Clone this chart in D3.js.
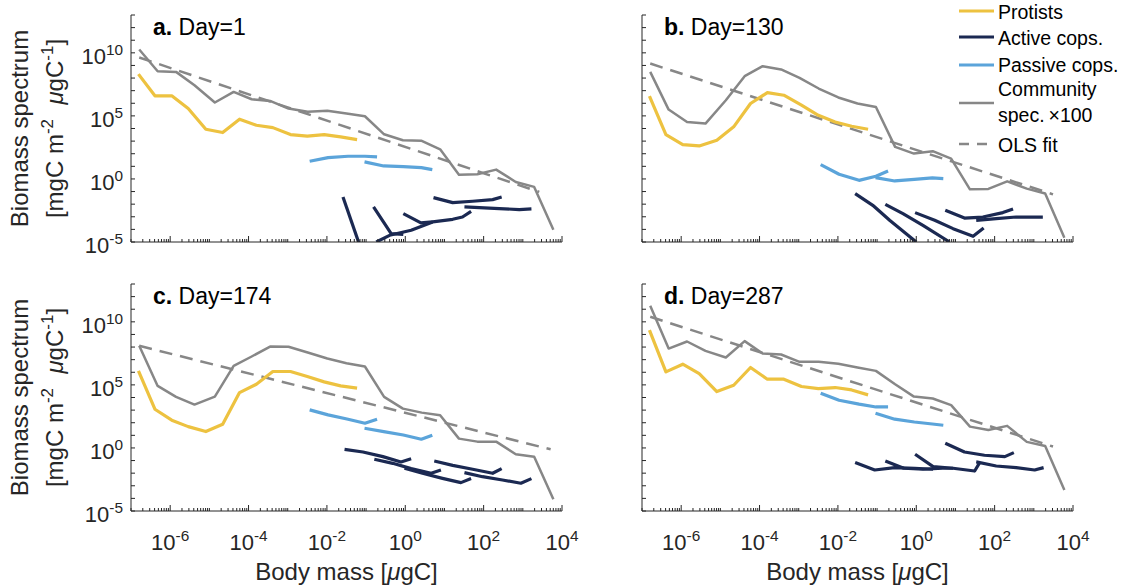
<!DOCTYPE html>
<html>
<head>
<meta charset="utf-8">
<script src="https://cdn.jsdelivr.net/npm/d3@7"></script>
<style>
  body { margin: 0; background: #fff; }
  svg { font-family: Arial, "Liberation Sans", Helvetica, sans-serif; }
</style>
</head>
<body>
<div id="chart"></div>
<script>
// all values are log10: body mass [ugC] and biomass spectrum
const panelLetters = ["a.", "b.", "c.", "d."];
const panelDays = [1, 130, 174, 287];

const commMass = [-6.79, -6.32, -5.85, -5.38, -4.86, -4.38, -3.92, -3.45, -2.98, -2.49, -1.99, -1.50,
  -1.03, -0.54, -0.06, 0.42, 0.89, 1.37, 1.84, 2.32, 2.82, 3.29, 3.78];
const commA = [10.26, 8.54, 8.49, 7.43, 6.06, 6.90, 6.32, 6.19, 5.58, 5.32, 5.40, 5.19,
  4.97, 3.54, 3.07, 3.02, 2.35, 0.34, 0.37, 0.74, -0.24, -0.63, -4.02];
const commB = [8.49, 5.50, 4.52, 4.39, 6.24, 8.15, 8.94, 8.68, 8.02, 7.17, 6.46, 5.98,
  5.71, 2.54, 2.01, 2.20, 1.61, -0.82, -0.79, -0.19, -0.77, -1.16, -4.66];
const commC = [8.10, 4.92, 4.05, 3.44, 4.07, 6.51, 7.25, 8.04, 8.02, 7.57, 7.09, 6.72,
  6.46, 4.05, 3.12, 2.80, 2.59, 0.74, 0.50, 0.50, -0.50, -0.69, -4.07];
const commD = [11.27, 7.88, 8.44, 7.70, 7.17, 8.47, 7.49, 7.41, 6.83, 6.83, 6.67, 6.38,
  6.11, 5.05, 4.07, 3.92, 3.39, 1.69, 1.43, 1.75, 0.48, 0.16, -3.33];

const protMass = [-6.81, -6.39, -5.96, -5.54, -5.09, -4.66, -4.23, -3.80, -3.38, -2.93, -2.50, -2.07, -1.65, -1.23];
const protA = [8.31, 6.59, 6.59, 5.58, 3.94, 3.68, 4.74, 4.26, 4.07, 3.52, 3.39, 3.52, 3.33, 3.12];
const protB = [6.56, 3.52, 2.72, 2.62, 3.07, 4.13, 5.98, 6.85, 6.64, 5.85, 5.05, 4.52, 4.18, 3.94];
const protC = [6.11, 3.07, 2.20, 1.69, 1.30, 1.88, 4.39, 5.05, 6.06, 6.06, 5.66, 5.24, 4.92, 4.74];
const protD = [9.34, 6.03, 6.64, 5.90, 4.47, 4.97, 6.38, 5.45, 5.45, 4.87, 4.71, 4.79, 4.60, 4.21];

const passMass1 = [-2.44, -1.97, -1.46, -1.03, -0.72];
const passMass2 = [-1.04, -0.55, -0.05, 0.41, 0.69];
const passA = [[1.40, 1.69, 1.80, 1.80, 1.75], [1.35, 1.03, 0.98, 0.90, 0.74]];
const passB = [[1.14, 0.37, -0.11, 0.21, 0.63], [0.11, -0.16, -0.03, 0.08, 0.03]];
const passC = [[3.02, 2.62, 2.28, 1.96, 2.28], [1.56, 1.30, 1.03, 0.69, 1.01]];
const passD = [[4.34, 3.78, 3.47, 3.25, 3.25], [2.75, 2.28, 2.06, 1.90, 1.80]];

// active copepod populations: [mass, biomass] pairs
const activeA = [
  [[-1.59, -1.43], [-1.17, -5.2]],
  [[-0.81, -2.22], [-0.36, -4.34], [-0.05, -4.40]],
  [[-0.74, -5.0], [-0.40, -4.47], [0.15, -4.07], [0.70, -3.41], [1.21, -3.20], [1.46, -3.02], [1.68, -2.57]],
  [[-0.05, -2.75], [0.40, -3.49], [0.70, -3.41]],
  [[0.72, -1.48], [1.21, -1.88], [1.72, -1.77], [2.23, -1.64], [2.46, -1.43]],
  [[1.51, -2.22], [1.89, -2.28], [2.40, -2.35], [2.91, -2.43], [3.22, -2.38]]
];
const activeB = [
  [[-1.56, -1.16], [-1.11, -2.09], [-0.68, -3.28], [0.0, -5.0]],
  [[-0.79, -2.01], [-0.34, -2.75], [0.17, -3.68], [0.85, -5.0]],
  [[-0.03, -2.67], [0.47, -3.28], [0.94, -3.94], [1.45, -4.55], [1.72, -3.89]],
  [[0.74, -2.49], [1.23, -3.10], [1.70, -3.02], [2.21, -2.67], [2.47, -2.38]],
  [[1.53, -3.28], [2.04, -3.15], [2.55, -3.02], [2.98, -3.02], [3.23, -3.02]]
];
const activeC = [
  [[-1.55, -0.11], [-1.08, -0.32], [-0.57, -0.69], [-0.11, -1.11], [0.15, -0.85]],
  [[-0.79, -0.90], [-0.32, -1.22], [0.15, -1.64], [0.66, -2.01], [0.91, -1.75]],
  [[-0.02, -1.61], [0.44, -2.01], [0.95, -2.41], [1.42, -2.75], [1.68, -2.43]],
  [[0.74, -1.03], [1.21, -1.38], [1.72, -1.69], [2.23, -2.01], [2.46, -1.64]],
  [[1.51, -1.96], [1.97, -2.28], [2.48, -2.54], [2.95, -2.80], [3.22, -2.43]]
];
const activeD = [
  [[-1.56, -1.16], [-1.06, -1.75], [-0.55, -1.56], [-0.04, -1.61], [0.43, -1.69]],
  [[-0.79, -1.03], [-0.32, -1.61], [0.17, -1.69], [0.68, -1.61], [0.94, -1.61]],
  [[-0.03, -0.50], [0.43, -1.48], [0.94, -1.61], [1.49, -1.83], [1.63, -1.11]],
  [[0.74, 0.37], [1.23, -0.32], [1.74, -0.58], [2.26, -0.69], [2.49, -0.37]],
  [[1.53, -1.11], [2.04, -1.43], [2.55, -1.56], [3.02, -1.75], [3.25, -1.56]]
];

// OLS fit endpoints [mass, biomass]
const olsA = [[-6.79, 9.63], [3.42, -1.03]];
const olsB = [[-6.79, 9.15], [3.49, -1.22]];
const olsC = [[-6.79, 8.10], [3.71, -0.11]];
const olsD = [[-6.79, 10.40], [3.49, 0.11]];

const legendLabels = ["Protists", "Active cops.", "Passive cops.", "Community", "OLS fit"];

const colProt = "#EDC240", colActive = "#1B2952", colPass = "#5BA4DA", colComm = "#878787";

const panels = [
  {comm: commA, prot: protA, pass: passA, active: activeA, ols: olsA, x0: 131, y0: 15},
  {comm: commB, prot: protB, pass: passB, active: activeB, ols: olsB, x0: 642, y0: 15},
  {comm: commC, prot: protC, pass: passC, active: activeC, ols: olsC, x0: 131, y0: 284},
  {comm: commD, prot: protD, pass: passD, active: activeD, ols: olsD, x0: 642, y0: 284}
];
const pw = 431, ph = 227;

const svg = d3.select("#chart").append("svg")
  .attr("width", 1125).attr("height", 587);

function supLabel(sel, base, exp, size) {
  sel.append("tspan").text(base);
  sel.append("tspan").attr("font-size", size * 0.7).attr("dy", -size * 0.42).text(exp);
}

panels.forEach(function(p, i) {
  const x = d3.scaleLog().domain([1e-7, 1e4]).range([p.x0, p.x0 + pw]);
  const y = d3.scaleLog().domain([1e-5, 1e13]).range([p.y0 + ph, p.y0]);
  const line = d3.line().x(d => x(Math.pow(10, d[0]))).y(d => y(Math.pow(10, d[1])));
  const g = svg.append("g");

  svg.append("clipPath").attr("id", "clip" + i)
    .append("rect").attr("x", p.x0).attr("y", p.y0).attr("width", pw).attr("height", ph);
  const plot = g.append("g").attr("clip-path", "url(#clip" + i + ")")
    .attr("fill", "none").attr("stroke-linejoin", "round");

  // community spectrum and fit
  plot.append("path").attr("d", line(commMass.map((m, k) => [m, p.comm[k]])))
    .attr("stroke", colComm).attr("stroke-width", 2.5);
  plot.append("path").attr("d", line(p.ols))
    .attr("stroke", colComm).attr("stroke-width", 2.5).attr("stroke-dasharray", "13,8");
  // protists
  plot.append("path").attr("d", line(protMass.map((m, k) => [m, p.prot[k]])))
    .attr("stroke", colProt).attr("stroke-width", 3.2);
  // passive copepods
  [passMass1, passMass2].forEach(function(ms, s) {
    plot.append("path").attr("d", line(ms.map((m, k) => [m, p.pass[s][k]])))
      .attr("stroke", colPass).attr("stroke-width", 3.2);
  });
  // active copepods
  p.active.forEach(function(seg) {
    plot.append("path").attr("d", line(seg))
      .attr("stroke", colActive).attr("stroke-width", 3.2);
  });

  // axes
  const ax = g.append("g").attr("stroke", "#262626").attr("stroke-width", 1);
  ax.append("line").attr("x1", p.x0).attr("x2", p.x0).attr("y1", p.y0).attr("y2", p.y0 + ph);
  ax.append("line").attr("x1", p.x0).attr("x2", p.x0 + pw).attr("y1", p.y0 + ph).attr("y2", p.y0 + ph);
  d3.range(-5, 14).forEach(function(e) {
    const yy = y(Math.pow(10, e));
    ax.append("line").attr("x1", p.x0).attr("x2", p.x0 + 4).attr("y1", yy).attr("y2", yy);
  });
  d3.range(-7, 4).forEach(function(e) {
    d3.range(1, 10).forEach(function(k) {
      const v = k * Math.pow(10, e);
      const major = (k === 1 && e % 2 === 0);
      const xx = x(v);
      ax.append("line").attr("x1", xx).attr("x2", xx)
        .attr("y1", p.y0 + ph).attr("y2", p.y0 + ph - (major ? 6 : 3));
    });
  });
  const xe = x(1e4);
  ax.append("line").attr("x1", xe).attr("x2", xe).attr("y1", p.y0 + ph).attr("y2", p.y0 + ph - 6);

  // tick labels
  if (i % 2 === 0) {
    [-5, 0, 5, 10].forEach(function(e) {
      const t = g.append("text").attr("x", p.x0 - 8).attr("y", y(Math.pow(10, e)) + 11)
        .attr("text-anchor", "end").attr("font-size", 22).attr("fill", "#262626");
      supLabel(t, "10", String(e), 22);
    });
  }
  if (i >= 2) {
    [-6, -4, -2, 0, 2, 4].forEach(function(e) {
      const t = g.append("text").attr("x", x(Math.pow(10, e))).attr("y", 550)
        .attr("text-anchor", "middle").attr("font-size", 22).attr("fill", "#262626");
      supLabel(t, "10", String(e), 22);
    });
    const xl = g.append("text").attr("x", p.x0 + pw / 2).attr("y", 580)
      .attr("text-anchor", "middle").attr("font-size", 24).attr("fill", "#262626");
    xl.append("tspan").text("Body mass [");
    xl.append("tspan").attr("font-style", "italic").text("\u03bc");
    xl.append("tspan").text("gC]");
  }
  if (i % 2 === 0) {
    const cy = p.y0 + ph / 2;
    g.append("text").attr("transform", `translate(28,${cy}) rotate(-90)`)
      .attr("text-anchor", "middle").attr("font-size", 24).attr("fill", "#262626")
      .text("Biomass spectrum");
    const t2 = g.append("text").attr("transform", `translate(63,${cy}) rotate(-90)`)
      .attr("text-anchor", "middle").attr("font-size", 24).attr("fill", "#262626");
    t2.append("tspan").text("[mgC m");
    t2.append("tspan").attr("font-size", 17).attr("dy", -10).text("-2");
    t2.append("tspan").attr("dy", 10).text("\u2009\u2009\u2009");
    t2.append("tspan").attr("font-style", "italic").text("\u03bc");
    t2.append("tspan").text("gC");
    t2.append("tspan").attr("font-size", 17).attr("dy", -10).text("-1");
    t2.append("tspan").attr("dy", 10).text("]");
  }

  // panel title
  const tt = g.append("text").attr("x", p.x0 + 22).attr("y", p.y0 + 20)
    .attr("font-size", 23).attr("fill", "#000");
  tt.append("tspan").attr("font-weight", "bold").text(panelLetters[i]);
  tt.append("tspan").text(" Day=" + panelDays[i]);
});

// legend
const lg = svg.append("g").attr("font-size", 19.5).attr("fill", "#000");
const legendRows = [
  {label: legendLabels[0], color: colProt, w: 3.2, ly: 11, ty: 19},
  {label: legendLabels[1], color: colActive, w: 3.2, ly: 37, ty: 45},
  {label: legendLabels[2], color: colPass, w: 3.2, ly: 65, ty: 72},
  {label: legendLabels[3], color: colComm, w: 2.5, ly: 103, ty: 96},
  {label: legendLabels[4], color: colComm, w: 2.5, ly: 144, ty: 152, dash: "10,8"}
];
legendRows.forEach(function(r) {
  lg.append("line").attr("x1", 959).attr("x2", 994).attr("y1", r.ly).attr("y2", r.ly)
    .attr("stroke", r.color).attr("stroke-width", r.w).attr("stroke-dasharray", r.dash || null);
  lg.append("text").attr("x", 998).attr("y", r.ty).text(r.label);
});
lg.append("text").attr("x", 998).attr("y", 122).text("spec.\u2009\u00d7100");
</script>
</body>
</html>
